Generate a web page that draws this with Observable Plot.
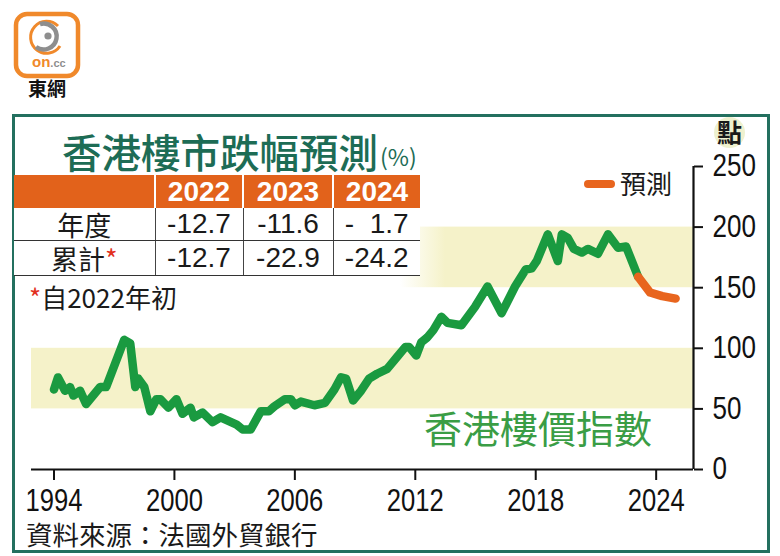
<!DOCTYPE html>
<html><head><meta charset="utf-8">
<script src="https://cdn.jsdelivr.net/npm/d3@7"></script>
<script src="https://cdn.jsdelivr.net/npm/@observablehq/plot@0.6"></script>
<style>
body{margin:0;background:#fff;}
#wrap{position:relative;width:780px;height:556px;overflow:hidden;font-family:"Noto Sans CJK TC","Noto Sans CJK SC",sans-serif;}
#frame{position:absolute;left:12px;top:114px;width:758px;height:439px;box-sizing:border-box;border:3px solid #23705f;}
#chart{position:absolute;left:0;top:0;}
.ov{position:absolute;white-space:pre;}
#title{left:62px;top:131px;font-size:39.5px;line-height:40px;color:#1d6c55;font-weight:500;}
#pct{left:380px;top:145px;font-size:23px;line-height:23px;color:#1d6c55;}
#tbl{position:absolute;left:14px;top:175px;border-collapse:collapse;table-layout:fixed;width:406px;background:#fff;}
#tbl th{background:#e2621b;color:#fff;font:bold 28px/1 "Liberation Sans",Arial,sans-serif;height:33px;padding:0;border-left:2px solid #fff;text-align:center;}
#tbl th:first-child{border-left:none;}
#tbl td{font:28px/1 "Liberation Sans",Arial,sans-serif;color:#1a1a1a;text-align:center;padding:0;border-bottom:1.5px solid #333;border-left:1.5px solid #444;white-space:pre;}
#tbl td:first-child{border-left:none;font-family:"Noto Sans CJK TC",sans-serif;font-size:27px;}
#tbl .r1 td{height:32px;}
#tbl .r2 td{height:34px;}
.red{color:#e2301e;}
#note{left:29px;top:284px;font-size:26px;line-height:26px;color:#1a1a1a;}
#legLine{position:absolute;left:584px;top:180px;width:31px;height:8px;border-radius:4px;background:#e8651e;}
#legText{left:620px;top:170px;font-size:26px;line-height:26px;color:#1a1a1a;}
#unitBg{position:absolute;left:714px;top:117px;width:31px;height:31px;border-radius:50%;background:#eef1cf;}
#unit{left:717px;top:119px;font-size:25px;line-height:25px;font-weight:bold;color:#1a1a1a;}
#series{left:424px;top:408px;font-size:38px;line-height:38px;color:#3a9d45;}
#source{left:26px;top:521px;font-size:26.5px;line-height:26px;color:#1a1a1a;}
#brand{left:28px;top:78px;font-size:19px;line-height:20px;font-weight:bold;color:#111;}
</style>
</head><body>
<div id="wrap">
  <svg id="logo" width="100" height="80" style="position:absolute;left:0;top:0">
    <rect x="16" y="14" width="62" height="62" rx="11" fill="#fff" stroke="#f0892b" stroke-width="4.5"/>
    <path d="M 58 26 A 16 16 0 1 0 60 46" fill="none" stroke="#f0892b" stroke-width="3"/>
    <path d="M 40 24 A 13 13 0 1 1 36 47" fill="none" stroke="#8e8e8e" stroke-width="4.5"/>
    <circle cx="48" cy="36" r="3.6" fill="#8e8e8e"/>
    <text x="32" y="67" font-family="Liberation Sans,Arial" font-weight="bold" font-size="15" fill="#f0892b">on<tspan font-size="11" fill="#8e8e8e">.cc</tspan></text>
  </svg>
  <div class="ov" id="brand">東網</div>
  <div id="frame"></div>
  <div id="chart"></div>
  <div class="ov" id="title">香港樓市跌幅預測</div>
  <div class="ov" id="pct">(%)</div>
  <table id="tbl"></table>
  <div class="ov" id="note"><span class="red">*</span>自2022年初</div>
  <div id="legLine"></div>
  <div class="ov" id="legText">預測</div>
  <div id="unitBg"></div>
  <div class="ov" id="unit">點</div>
  <div class="ov" id="series">香港樓價指數</div>
  <div class="ov" id="source">資料來源：法國外貿銀行</div>
</div>
<script>
// ---- data ----
const years = [1994.0,1994.2,1994.55,1994.8,1994.97,1995.3,1995.6,1996.3,1996.6,1997.5,1997.8,1998.05,1998.2,1998.5,1998.8,1999.1,1999.3,1999.7,2000.1,2000.4,2000.8,2000.97,2001.4,2001.9,2002.3,2003.1,2003.4,2003.8,2004.3,2004.7,2004.97,2005.5,2005.8,2006.0,2006.3,2006.97,2007.5,2007.97,2008.3,2008.55,2008.9,2009.3,2009.7,2010.1,2010.6,2011.1,2011.5,2011.7,2012.05,2012.3,2012.6,2012.9,2013.3,2013.6,2014.3,2014.97,2015.6,2016.3,2016.97,2017.5,2017.8,2018.05,2018.6,2019.1,2019.3,2019.6,2019.9,2020.3,2020.6,2021.1,2021.6,2022.1,2022.5,2023.1];
const index = [66,76,65,68,61,65,54,68,68,107,104,68,75,68,48,58,58,51,58,46,51,43,47,39,43,37,33,33,48,48,52,58,58,53,56,53,55,66,76,75,57,65,75,79,83,93,101,101,94,105,109,115,126,121,119,134,151,129,151,165,166,172,194,172,194,191,182,179,182,178,194,183,184,159];
const forecastYears = [2023.1,2023.7,2024.3,2024.97];
const forecastIndex = [159,146,143,141];
const xTicks = [1994,2000,2006,2012,2018,2024];
const yTicks = [0,50,100,150,200,250];
const bandLow = [50,100];
const bandHigh = [150,200];
const tableYears = ["2022","2023","2024"];
const rowLabels = ["年度","累計"];
const annualChange = ["-12.7","-11.6","-  1.7"];
const cumulativeChange = ["-12.7","-22.9","-24.2"];

// ---- table ----
const tbl = document.getElementById("tbl");
let html = '<colgroup><col style="width:141px"><col style="width:88px"><col style="width:90px"><col style="width:87px"></colgroup>';
html += '<tr><th></th>' + tableYears.map(y => `<th>${y}</th>`).join("") + '</tr>';
html += '<tr class="r1"><td>' + rowLabels[0] + '</td>' + annualChange.map(v => `<td>${v}</td>`).join("") + '</tr>';
html += '<tr class="r2"><td>' + rowLabels[1] + '<span class="red">*</span></td>' + cumulativeChange.map(v => `<td>${v}</td>`).join("") + '</tr>';
tbl.innerHTML = html;

// ---- chart ----
const xDomain = [1992.88, 2025.86];
const hist = years.map((y, i) => ({year: y, value: index[i]}));
const fc = forecastYears.map((y, i) => ({year: y, value: forecastIndex[i]}));
const bands = [{lo: bandLow[0], hi: bandLow[1]}, {lo: bandHigh[0], hi: bandHigh[1]}];
const numFont = '"Liberation Sans",Arial,sans-serif';

const svg = Plot.plot({
  width: 780, height: 556,
  marginLeft: 31, marginRight: 87, marginTop: 166, marginBottom: 87,
  x: {domain: xDomain, axis: null},
  y: {domain: [0, 250], axis: null},
  style: {background: "transparent", fontFamily: numFont, fontSize: "31px", color: "#111", overflow: "visible"},
  marks: [
    Plot.rect(bands.slice(0,1), {x1: () => xDomain[0], x2: () => xDomain[1], y1: "lo", y2: "hi", fill: "#f5f2c9"}),
    Plot.rect(bands.slice(1), {x1: () => xDomain[0], x2: () => xDomain[1], y1: "lo", y2: "hi", fill: "url(#hiBand)"}),
    Plot.line(hist, {x: "year", y: "value", stroke: "#1a9a40", strokeWidth: 8.5, strokeLinejoin: "round", strokeLinecap: "round"}),
    Plot.line(fc, {x: "year", y: "value", stroke: "#e8651e", strokeWidth: 8.5, strokeLinejoin: "round", strokeLinecap: "round"}),
    Plot.ruleY([0], {stroke: "#111", strokeWidth: 2.2}),
    Plot.ruleX([xDomain[1]], {y1: 0, y2: 250, stroke: "#111", strokeWidth: 2.2}),
    Plot.axisX(xTicks, {tickSize: 11, tickPadding: 9, strokeWidth: 2, stroke: "#111", fill: "#111", tickFormat: d => String(d), label: null, fontSize: 30.5}),
    Plot.axisY(yTicks, {anchor: "right", tickSize: 9, tickPadding: 10, strokeWidth: 2, stroke: "#111", fill: "#111", tickFormat: d => String(d), label: null, fontSize: 31})
  ]
});
svg.insertAdjacentHTML("afterbegin", '<defs><linearGradient id="hiBand" gradientUnits="userSpaceOnUse" x1="400" y1="0" x2="445" y2="0"><stop offset="0" stop-color="#f5f2c9" stop-opacity="0"/><stop offset="1" stop-color="#f5f2c9" stop-opacity="1"/></linearGradient></defs>');
// condense the axis numerals like the reference's narrow face
svg.querySelectorAll('g[aria-label$="tick label"] text').forEach(t => {
  const tr = t.getAttribute("transform");
  if (tr) t.setAttribute("transform", tr + " scale(0.84,1)");
});
document.getElementById("chart").appendChild(svg);
</script>
</body></html>
